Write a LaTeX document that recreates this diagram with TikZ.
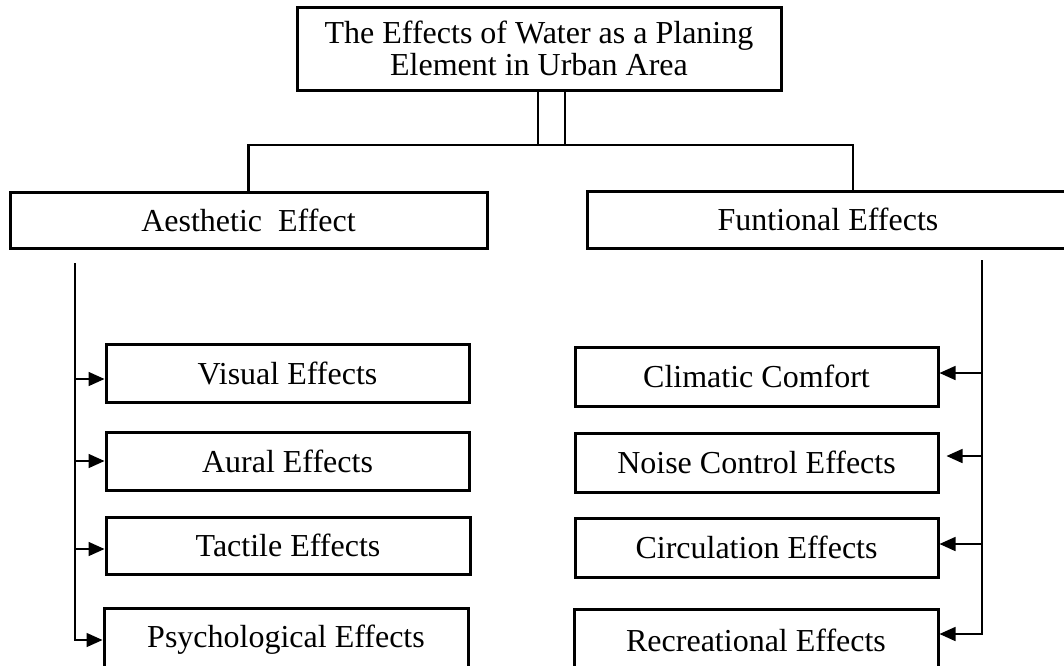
\documentclass[tikz,border=0pt]{standalone}
\usepackage{fontspec}
\setmainfont{Liberation Serif}
\usetikzlibrary{arrows.meta}
\begin{document}
\begin{tikzpicture}[x=1pt,y=-1pt,
  box/.style={draw, line width=3pt, inner sep=0pt, align=center,
              font=\fontsize{32}{32}\selectfont},
  link/.style={line width=2.2pt},
  feed/.style={line width=1.6pt, -{Triangle[length=16pt,width=14pt]}}]
\useasboundingbox (0,0) rectangle (1064,665);

% root and the two branches
\node[box, minimum width=484, minimum height=83] (top) at (539,48.5)
  {The Effects of Water as a Planing\\Element in Urban Area};
\node[box, minimum width=477, minimum height=56] (aest) at (248.5,220) {Aesthetic\ \ Effect};
\node[box, minimum width=482, minimum height=57] (func) at (828,219.5) {Funtional Effects};

% aesthetic effects
\node[box, minimum width=363, minimum height=58] (vis) at (287.5,373) {Visual Effects};
\node[box, minimum width=363, minimum height=58] (aur) at (287.5,461) {Aural Effects};
\node[box, minimum width=364, minimum height=57] (tac) at (288,545.5) {Tactile Effects};
\node[box, minimum width=364, minimum height=64] (psy) at (286,640) {Psychological Effects};

% functional effects
\node[box, minimum width=363, minimum height=59] (cli) at (756.5,376.5) {Climatic Comfort};
\node[box, minimum width=363, minimum height=59] (noi) at (756.5,462.5) {Noise Control Effects};
\node[box, minimum width=363, minimum height=59] (cir) at (756.5,547.5) {Circulation Effects};
\node[box, minimum width=364, minimum height=62] (rec) at (756,640) {Recreational Effects};

% double stem and the branch bar
\coordinate (j1) at (538,145);
\coordinate (j2) at (565,145);
\draw[link] (j1 |- top.south) -- (j1) -- (j2) -- (j2 |- top.south);
\coordinate (bar) at (0,145);
\coordinate (fs) at (853,145);
\draw[link] (aest.north) -- (aest.north |- bar) -- (fs) -- (fs |- func.north);

% left spine
\coordinate (ls) at (75,263);
\coordinate (lb) at (75,640);
\draw[feed] (ls) -- (lb) -- (lb -| psy.west);
\coordinate (l1) at (75,379);
\coordinate (l2) at (75,461);
\coordinate (l3) at (75,549);
\draw[feed] (l1) -- (l1 -| vis.west);
\draw[feed] (l2) -- (l2 -| aur.west);
\draw[feed] (l3) -- (l3 -| tac.west);

% right spine
\coordinate (rs) at (982,260);
\coordinate (rb) at (982,634);
\draw[feed] (rs) -- (rb) -- (rb -| rec.east);
\coordinate (r1) at (982,373);
\coordinate (r2) at (982,456);
\coordinate (r3) at (982,544);
\draw[feed] (r1) -- (r1 -| cli.east);
\draw[feed] (r2) -- ([xshift=7pt]r2 -| noi.east);
\draw[feed] (r3) -- (r3 -| cir.east);
\end{tikzpicture}
\end{document}
